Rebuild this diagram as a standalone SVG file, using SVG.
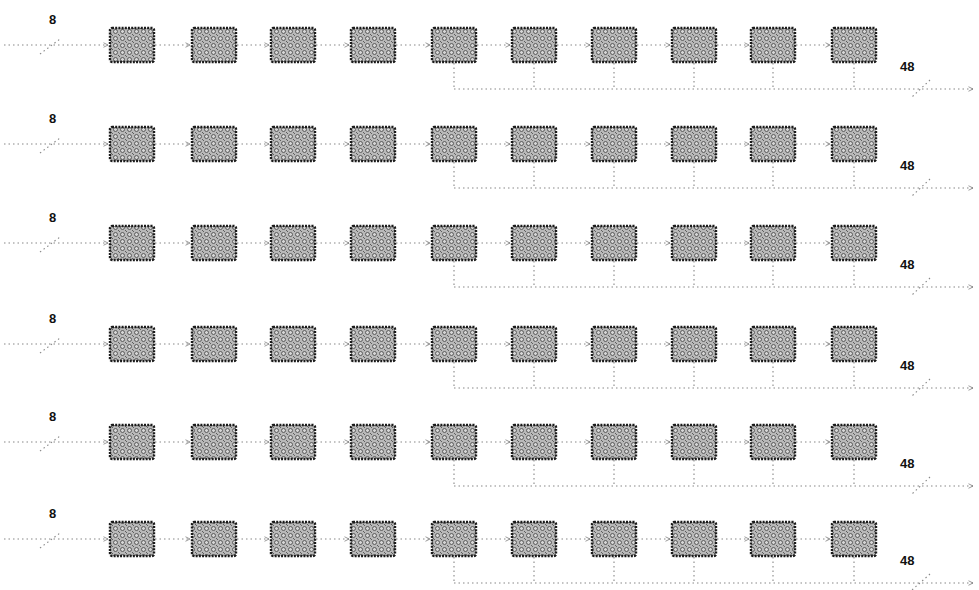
<svg xmlns="http://www.w3.org/2000/svg" width="979" height="590" viewBox="0 0 979 590">
<defs>
<pattern id="stip" width="7" height="7" patternUnits="userSpaceOnUse">
<rect width="7" height="7" fill="#b9b9b9"/>
<circle cx="3.5" cy="3.5" r="2" fill="#d6d6d6" stroke="#444" stroke-width="0.8"/>
<circle cx="0" cy="0" r="0.9" fill="#333"/>
<circle cx="7" cy="7" r="0.9" fill="#333"/>
</pattern>
<marker id="ah" viewBox="0 0 8 8" refX="7" refY="4" markerWidth="6" markerHeight="6" orient="auto" markerUnits="userSpaceOnUse">
<path d="M1 1 L7 4 L1 7" fill="none" stroke="#777" stroke-width="1"/>
</marker>
</defs>
<style>
.b{fill:url(#stip);stroke:#1a1a1a;stroke-width:2.4;stroke-dasharray:2 1.2}
.c{fill:none;stroke:#888;stroke-width:1.1;stroke-dasharray:1.5 3;marker-end:url(#ah)}
.d{fill:none;stroke:#888;stroke-width:1.1;stroke-dasharray:1.5 3}
.t{font-family:"Liberation Sans",Arial,sans-serif;font-weight:bold;font-size:13px;fill:#111}
</style>
<rect width="979" height="590" fill="#fff"/>

<g id="connectors">
<!-- row 1 cy=45 -->
<path class="c" d="M4 45 H108"/>
<path class="c" d="M155 45 H190"/><path class="c" d="M237 45 H269"/><path class="c" d="M316 45 H349"/><path class="c" d="M396 45 H430"/><path class="c" d="M477 45 H510"/><path class="c" d="M557 45 H590"/><path class="c" d="M637 45 H670"/><path class="c" d="M717 45 H749"/><path class="c" d="M796 45 H830"/>
<path class="d" d="M454 63 V89 M534 63 V89 M614 63 V89 M694 63 V89 M773 63 V89 M854 63 V89"/>
<path class="c" d="M454 89 H973"/>
<path class="d" d="M40 54 L60 39 M930 80 L912 97"/>
<!-- row 2 cy=144 -->
<path class="c" d="M4 144 H108"/>
<path class="c" d="M155 144 H190"/><path class="c" d="M237 144 H269"/><path class="c" d="M316 144 H349"/><path class="c" d="M396 144 H430"/><path class="c" d="M477 144 H510"/><path class="c" d="M557 144 H590"/><path class="c" d="M637 144 H670"/><path class="c" d="M717 144 H749"/><path class="c" d="M796 144 H830"/>
<path class="d" d="M454 162 V188 M534 162 V188 M614 162 V188 M694 162 V188 M773 162 V188 M854 162 V188"/>
<path class="c" d="M454 188 H973"/>
<path class="d" d="M40 153 L60 138 M930 179 L912 196"/>
<!-- row 3 cy=243 -->
<path class="c" d="M4 243 H108"/>
<path class="c" d="M155 243 H190"/><path class="c" d="M237 243 H269"/><path class="c" d="M316 243 H349"/><path class="c" d="M396 243 H430"/><path class="c" d="M477 243 H510"/><path class="c" d="M557 243 H590"/><path class="c" d="M637 243 H670"/><path class="c" d="M717 243 H749"/><path class="c" d="M796 243 H830"/>
<path class="d" d="M454 261 V287 M534 261 V287 M614 261 V287 M694 261 V287 M773 261 V287 M854 261 V287"/>
<path class="c" d="M454 287 H973"/>
<path class="d" d="M40 252 L60 237 M930 278 L912 295"/>
<!-- row 4 cy=344 -->
<path class="c" d="M4 344 H108"/>
<path class="c" d="M155 344 H190"/><path class="c" d="M237 344 H269"/><path class="c" d="M316 344 H349"/><path class="c" d="M396 344 H430"/><path class="c" d="M477 344 H510"/><path class="c" d="M557 344 H590"/><path class="c" d="M637 344 H670"/><path class="c" d="M717 344 H749"/><path class="c" d="M796 344 H830"/>
<path class="d" d="M454 362 V388 M534 362 V388 M614 362 V388 M694 362 V388 M773 362 V388 M854 362 V388"/>
<path class="c" d="M454 388 H973"/>
<path class="d" d="M40 353 L60 338 M930 379 L912 396"/>
<!-- row 5 cy=442 -->
<path class="c" d="M4 442 H108"/>
<path class="c" d="M155 442 H190"/><path class="c" d="M237 442 H269"/><path class="c" d="M316 442 H349"/><path class="c" d="M396 442 H430"/><path class="c" d="M477 442 H510"/><path class="c" d="M557 442 H590"/><path class="c" d="M637 442 H670"/><path class="c" d="M717 442 H749"/><path class="c" d="M796 442 H830"/>
<path class="d" d="M454 460 V486 M534 460 V486 M614 460 V486 M694 460 V486 M773 460 V486 M854 460 V486"/>
<path class="c" d="M454 486 H973"/>
<path class="d" d="M40 451 L60 436 M930 477 L912 494"/>
<!-- row 6 cy=539 -->
<path class="c" d="M4 539 H108"/>
<path class="c" d="M155 539 H190"/><path class="c" d="M237 539 H269"/><path class="c" d="M316 539 H349"/><path class="c" d="M396 539 H430"/><path class="c" d="M477 539 H510"/><path class="c" d="M557 539 H590"/><path class="c" d="M637 539 H670"/><path class="c" d="M717 539 H749"/><path class="c" d="M796 539 H830"/>
<path class="d" d="M454 557 V583 M534 557 V583 M614 557 V583 M694 557 V583 M773 557 V583 M854 557 V583"/>
<path class="c" d="M454 583 H973"/>
<path class="d" d="M40 548 L60 533 M930 574 L912 590"/>
</g>

<!-- row 1 -->
<g id="r1-label-in"><text class="t" x="49" y="24">8</text></g>
<g id="r1-label-out"><text class="t" x="900" y="71">48</text></g>
<g id="r1n1"><rect class="b" x="110" y="28" width="44" height="34" rx="2"/></g>
<g id="r1n2"><rect class="b" x="192" y="28" width="44" height="34" rx="2"/></g>
<g id="r1n3"><rect class="b" x="271" y="28" width="44" height="34" rx="2"/></g>
<g id="r1n4"><rect class="b" x="351" y="28" width="44" height="34" rx="2"/></g>
<g id="r1n5"><rect class="b" x="432" y="28" width="44" height="34" rx="2"/></g>
<g id="r1n6"><rect class="b" x="512" y="28" width="44" height="34" rx="2"/></g>
<g id="r1n7"><rect class="b" x="592" y="28" width="44" height="34" rx="2"/></g>
<g id="r1n8"><rect class="b" x="672" y="28" width="44" height="34" rx="2"/></g>
<g id="r1n9"><rect class="b" x="751" y="28" width="44" height="34" rx="2"/></g>
<g id="r1n10"><rect class="b" x="832" y="28" width="44" height="34" rx="2"/></g>

<!-- row 2 -->
<g id="r2-label-in"><text class="t" x="49" y="123">8</text></g>
<g id="r2-label-out"><text class="t" x="900" y="170">48</text></g>
<g id="r2n1"><rect class="b" x="110" y="127" width="44" height="34" rx="2"/></g>
<g id="r2n2"><rect class="b" x="192" y="127" width="44" height="34" rx="2"/></g>
<g id="r2n3"><rect class="b" x="271" y="127" width="44" height="34" rx="2"/></g>
<g id="r2n4"><rect class="b" x="351" y="127" width="44" height="34" rx="2"/></g>
<g id="r2n5"><rect class="b" x="432" y="127" width="44" height="34" rx="2"/></g>
<g id="r2n6"><rect class="b" x="512" y="127" width="44" height="34" rx="2"/></g>
<g id="r2n7"><rect class="b" x="592" y="127" width="44" height="34" rx="2"/></g>
<g id="r2n8"><rect class="b" x="672" y="127" width="44" height="34" rx="2"/></g>
<g id="r2n9"><rect class="b" x="751" y="127" width="44" height="34" rx="2"/></g>
<g id="r2n10"><rect class="b" x="832" y="127" width="44" height="34" rx="2"/></g>

<!-- row 3 -->
<g id="r3-label-in"><text class="t" x="49" y="222">8</text></g>
<g id="r3-label-out"><text class="t" x="900" y="269">48</text></g>
<g id="r3n1"><rect class="b" x="110" y="226" width="44" height="34" rx="2"/></g>
<g id="r3n2"><rect class="b" x="192" y="226" width="44" height="34" rx="2"/></g>
<g id="r3n3"><rect class="b" x="271" y="226" width="44" height="34" rx="2"/></g>
<g id="r3n4"><rect class="b" x="351" y="226" width="44" height="34" rx="2"/></g>
<g id="r3n5"><rect class="b" x="432" y="226" width="44" height="34" rx="2"/></g>
<g id="r3n6"><rect class="b" x="512" y="226" width="44" height="34" rx="2"/></g>
<g id="r3n7"><rect class="b" x="592" y="226" width="44" height="34" rx="2"/></g>
<g id="r3n8"><rect class="b" x="672" y="226" width="44" height="34" rx="2"/></g>
<g id="r3n9"><rect class="b" x="751" y="226" width="44" height="34" rx="2"/></g>
<g id="r3n10"><rect class="b" x="832" y="226" width="44" height="34" rx="2"/></g>

<!-- row 4 -->
<g id="r4-label-in"><text class="t" x="49" y="323">8</text></g>
<g id="r4-label-out"><text class="t" x="900" y="370">48</text></g>
<g id="r4n1"><rect class="b" x="110" y="327" width="44" height="34" rx="2"/></g>
<g id="r4n2"><rect class="b" x="192" y="327" width="44" height="34" rx="2"/></g>
<g id="r4n3"><rect class="b" x="271" y="327" width="44" height="34" rx="2"/></g>
<g id="r4n4"><rect class="b" x="351" y="327" width="44" height="34" rx="2"/></g>
<g id="r4n5"><rect class="b" x="432" y="327" width="44" height="34" rx="2"/></g>
<g id="r4n6"><rect class="b" x="512" y="327" width="44" height="34" rx="2"/></g>
<g id="r4n7"><rect class="b" x="592" y="327" width="44" height="34" rx="2"/></g>
<g id="r4n8"><rect class="b" x="672" y="327" width="44" height="34" rx="2"/></g>
<g id="r4n9"><rect class="b" x="751" y="327" width="44" height="34" rx="2"/></g>
<g id="r4n10"><rect class="b" x="832" y="327" width="44" height="34" rx="2"/></g>

<!-- row 5 -->
<g id="r5-label-in"><text class="t" x="49" y="421">8</text></g>
<g id="r5-label-out"><text class="t" x="900" y="468">48</text></g>
<g id="r5n1"><rect class="b" x="110" y="425" width="44" height="34" rx="2"/></g>
<g id="r5n2"><rect class="b" x="192" y="425" width="44" height="34" rx="2"/></g>
<g id="r5n3"><rect class="b" x="271" y="425" width="44" height="34" rx="2"/></g>
<g id="r5n4"><rect class="b" x="351" y="425" width="44" height="34" rx="2"/></g>
<g id="r5n5"><rect class="b" x="432" y="425" width="44" height="34" rx="2"/></g>
<g id="r5n6"><rect class="b" x="512" y="425" width="44" height="34" rx="2"/></g>
<g id="r5n7"><rect class="b" x="592" y="425" width="44" height="34" rx="2"/></g>
<g id="r5n8"><rect class="b" x="672" y="425" width="44" height="34" rx="2"/></g>
<g id="r5n9"><rect class="b" x="751" y="425" width="44" height="34" rx="2"/></g>
<g id="r5n10"><rect class="b" x="832" y="425" width="44" height="34" rx="2"/></g>

<!-- row 6 -->
<g id="r6-label-in"><text class="t" x="49" y="518">8</text></g>
<g id="r6-label-out"><text class="t" x="900" y="565">48</text></g>
<g id="r6n1"><rect class="b" x="110" y="522" width="44" height="34" rx="2"/></g>
<g id="r6n2"><rect class="b" x="192" y="522" width="44" height="34" rx="2"/></g>
<g id="r6n3"><rect class="b" x="271" y="522" width="44" height="34" rx="2"/></g>
<g id="r6n4"><rect class="b" x="351" y="522" width="44" height="34" rx="2"/></g>
<g id="r6n5"><rect class="b" x="432" y="522" width="44" height="34" rx="2"/></g>
<g id="r6n6"><rect class="b" x="512" y="522" width="44" height="34" rx="2"/></g>
<g id="r6n7"><rect class="b" x="592" y="522" width="44" height="34" rx="2"/></g>
<g id="r6n8"><rect class="b" x="672" y="522" width="44" height="34" rx="2"/></g>
<g id="r6n9"><rect class="b" x="751" y="522" width="44" height="34" rx="2"/></g>
<g id="r6n10"><rect class="b" x="832" y="522" width="44" height="34" rx="2"/></g>
</svg>
